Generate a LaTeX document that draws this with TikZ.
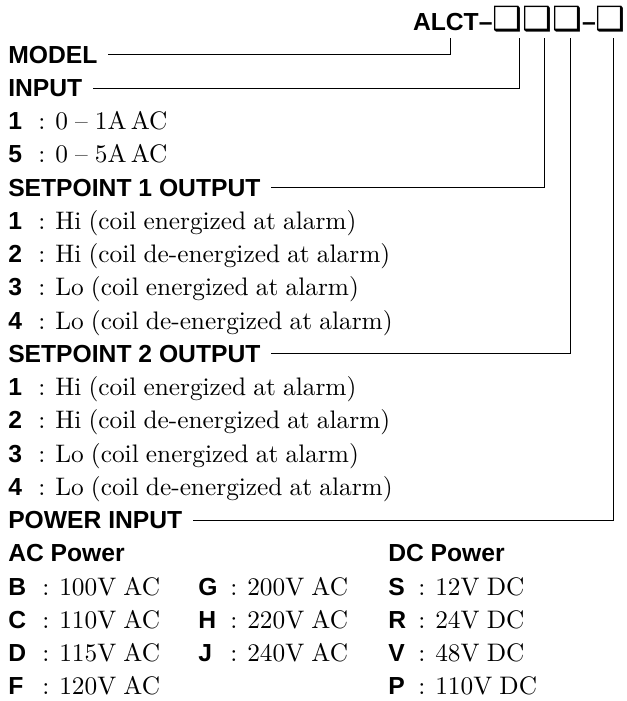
\documentclass[tikz,border=0pt]{standalone}
\usepackage{fontspec}
\setsansfont{Liberation Sans}
\newfontfamily\descfont{lmroman10-regular.otf}[Ligatures=TeX,WordSpace=0.85]
\newfontfamily\cboxfont{DejaVu Sans}
\usepackage{tikz}
\usetikzlibrary{positioning,calc}
\tikzset{
  hdr/.style={font=\sffamily\bfseries\fontsize{18.5}{22}\selectfont,inner sep=0pt,anchor=base west},
  desc/.style={font=\descfont\fontsize{19}{22}\selectfont,inner sep=0pt,anchor=base west},
  conn/.style={line width=0.6pt,black},
}

\begin{document}
\begin{tikzpicture}[x=0.75pt,y=-0.75pt]
  \useasboundingbox (0,0) rectangle (626,701);
  \def\rh{33.26}
  % part number
  \node[hdr,anchor=base east] (code) at (626,30)
    {ALCT--{\cboxfont\fontsize{25}{25}\selectfont ❑❑❑}--{\cboxfont\fontsize{25}{25}\selectfont ❑}};
  \coordinate (c-model) at (450,38);
  \coordinate (c-input) at (519,38);
  \coordinate (c-spa) at (544,38);
  \coordinate (c-spb) at (570,38);
  \coordinate (c-pwr) at (613,38);
  % headings
  \node[hdr] (model) at (8,63) {MODEL};
  \node[hdr] (input) at (8,{63+\rh}) {INPUT};
  \node[hdr] (spa) at (8,{63+4*\rh}) {SETPOINT 1 OUTPUT};
  \node[hdr] (spb) at (8,{63+9*\rh}) {SETPOINT 2 OUTPUT};
  \node[hdr] (pwr) at (8,{63+14*\rh}) {POWER INPUT};
  \draw[conn] ([xshift=8pt]model.east) -| (c-model);
  \draw[conn] ([xshift=8pt]input.east) -| (c-input);
  \draw[conn] ([xshift=8pt]spa.east) -| (c-spa);
  \draw[conn] ([xshift=8pt]spb.east) -| (c-spb);
  \draw[conn] ([xshift=8pt]pwr.east) -| (c-pwr);
  % input
  \foreach \k/\t [count=\i from 2] in {1/{0 -- 1A\,AC},5/{0 -- 5A\,AC}}{
    \node[hdr] (in-\k) at (8,{63+\i*\rh}) {\k};
    \node[desc] (in-\k-t) at (38,{63+\i*\rh}) {: \t};}
  % setpoint 1 / setpoint 2
  \foreach \k/\t [count=\i from 5] in {1/{Hi (coil energized at alarm)},2/{Hi (coil de-energized at alarm)},
      3/{Lo (coil energized at alarm)},4/{Lo (coil de-energized at alarm)}}{
    \node[hdr] (spa-\k) at (8,{63+\i*\rh}) {\k};
    \node[desc] (spa-\k-t) at (38,{63+\i*\rh}) {: \t};
    \node[hdr] (spb-\k) at (8,{63+(\i+5)*\rh}) {\k};
    \node[desc] (spb-\k-t) at (38,{63+(\i+5)*\rh}) {: \t};}
  % power
  \node[hdr] (ac) at (8,{63+15*\rh}) {AC Power};
  \node[hdr] (dc) at (388,{63+15*\rh}) {DC Power};
  \foreach \k/\t [count=\i from 16] in {B/100V AC,C/110V AC,D/115V AC,F/120V AC}{
    \node[hdr] (ac-\k) at (8,{63+\i*\rh}) {\k};
    \node[desc] (ac-\k-t) at (42,{63+\i*\rh}) {: \t};}
  \foreach \k/\t [count=\i from 16] in {G/200V AC,H/220V AC,J/240V AC}{
    \node[hdr] (ac-\k) at (198,{63+\i*\rh}) {\k};
    \node[desc] (ac-\k-t) at (230,{63+\i*\rh}) {: \t};}
  \foreach \k/\t [count=\i from 16] in {S/12V DC,R/24V DC,V/48V DC,P/110V DC}{
    \node[hdr] (dc-\k) at (388,{63+\i*\rh}) {\k};
    \node[desc] (dc-\k-t) at (418,{63+\i*\rh}) {: \t};}
\end{tikzpicture}
\end{document}
